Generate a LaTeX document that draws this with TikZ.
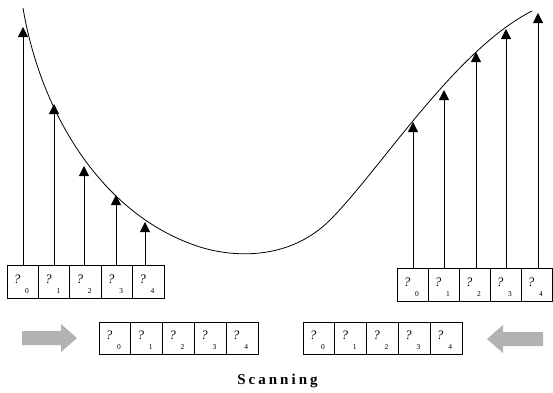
\documentclass[tikz,border=0pt]{standalone}
\usepackage{fontspec}
\setmainfont{Liberation Serif}
\usetikzlibrary{arrows.meta}
\begin{document}
\begin{tikzpicture}[x=1pt,y=-1pt,
  cell/.style={draw, line width=0.8pt, minimum width=31.4pt, minimum height=33pt, inner sep=0pt, outer sep=0pt, anchor=north west},
  qm/.style={inner sep=0pt, font=\fontsize{13}{13}\selectfont\itshape},
  sub/.style={inner sep=0pt, font=\fontsize{7.5}{7.5}\selectfont},
  up/.style={line width=0.8pt, -{Triangle[width=10pt,length=10pt]}},
  fat/.style={fill=gray!60, draw=none}]
\useasboundingbox (0,0) rectangle (553,392);
% curve
\draw[line width=0.8pt] (23,8) .. controls (40,110) and (100,215) .. (200,247)
  .. controls (235,257.9) and (290,260) .. (330,220)
  .. controls (380,170) and (455,50) .. (532,11);
% top-left cells
\foreach \i/\x in {0/7,1/38.4,2/69.8,3/101.2,4/132.6} {
  \node[cell] (L\i) at (\x,265) {};
  \node[qm] (L\i-q) at ([xshift=10pt,yshift=-14pt]L\i.north west) {?};
  \node[sub] (L\i-s) at ([xshift=20pt,yshift=-26pt]L\i.north west) {\i};
}
% top-right cells
\foreach \i/\x in {0/397,1/428,2/459,3/490,4/521} {
  \node[cell] (R\i) at (\x,268) {};
  \node[qm] (R\i-q) at ([xshift=10pt,yshift=-14pt]R\i.north west) {?};
  \node[sub] (R\i-s) at ([xshift=20pt,yshift=-26pt]R\i.north west) {\i};
}
% bottom cells
\foreach \i/\x in {0/99,1/130.8,2/162.6,3/194.4,4/226.2} {
  \node[cell, minimum width=31.8pt, minimum height=32pt] (A\i) at (\x,322) {};
  \node[qm] (A\i-q) at ([xshift=10pt,yshift=-13pt]A\i.north west) {?};
  \node[sub] (A\i-s) at ([xshift=20pt,yshift=-25pt]A\i.north west) {\i};
}
\foreach \i/\x in {0/303,1/334.8,2/366.6,3/398.4,4/430.2} {
  \node[cell, minimum width=31.8pt, minimum height=32pt] (B\i) at (\x,322) {};
  \node[qm] (B\i-q) at ([xshift=10pt,yshift=-13pt]B\i.north west) {?};
  \node[sub] (B\i-s) at ([xshift=20pt,yshift=-25pt]B\i.north west) {\i};
}
% arrow tips
\coordinate (tl0) at (23,27);
\coordinate (tl1) at (54,104);
\coordinate (tl2) at (84,166);
\coordinate (tl3) at (116,195);
\coordinate (tl4) at (145,222);
\coordinate (tr0) at (413,122);
\coordinate (tr1) at (444,90);
\coordinate (tr2) at (476,52);
\coordinate (tr3) at (506,29);
\coordinate (tr4) at (538,13);
\foreach \i in {0,...,4} {
  \draw[up] (tl\i |- L\i.north) -- (tl\i);
  \draw[up] (tr\i |- R\i.north) -- (tr\i);
}
% shaded arrows
\path[fat] (22,331) -- (61,331) -- (61,324) -- (77,338) -- (61,352) -- (61,345) -- (22,345) -- cycle;
\path[fat] (543,332) -- (503,332) -- (503,325) -- (487,339) -- (503,353) -- (503,346) -- (543,346) -- cycle;
% caption
\node[anchor=base, inner sep=0pt, font=\fontsize{15}{15}\selectfont\bfseries\addfontfeature{LetterSpace=20}] (title) at (277.5,384) {Scanning};
\end{tikzpicture}
\end{document}
